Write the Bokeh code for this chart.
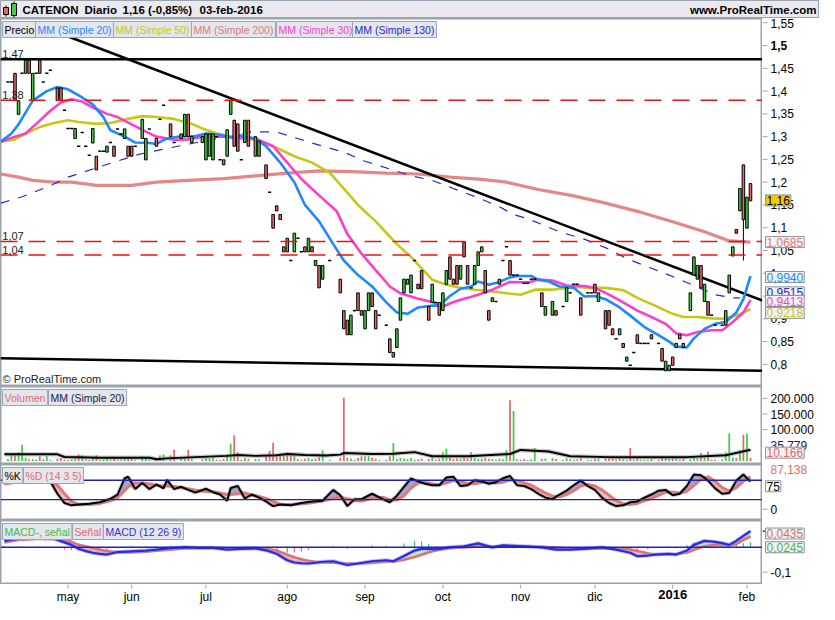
from bokeh.plotting import figure
from bokeh.layouts import column, row
from bokeh.models import Range1d, Label, Span
from bokeh.core.properties import value
from bokeh.embed import file_html
from bokeh.resources import INLINE

# ------------------------------------------------------------------ data
month_ticks = [18, 36, 57, 80, 102, 124, 146, 167, 189, 210]
month_labels = ["may", "jun", "jul", "ago", "sep", "oct", "nov", "dic", "2016", "feb"]

price_ticks = [0.8, 0.85, 0.9, 0.95, 1.0, 1.05, 1.1, 1.15, 1.2, 1.25, 1.3, 1.35, 1.4, 1.45, 1.5]
price_top_tick = 1.55
vol_ticks = [100000, 150000, 200000]
stoch_ticks = [0]
macd_ticks = [-0.1]

candle_x = [1, 2, 3, 4, 5, 6, 7, 8, 9, 10,
            11, 12, 13, 15, 16, 17, 18, 19, 20, 21,
            22, 23, 24, 25, 26, 27, 28, 29, 30, 31,
            32, 33, 34, 35, 36, 37, 39, 40, 41, 43,
            44, 45, 47, 48, 50, 51, 52, 53, 56, 57,
            58, 59, 60, 61, 62, 63, 64, 65, 66, 67,
            68, 69, 71, 72, 74, 75, 76, 77, 78, 79,
            80, 81, 82, 83, 84, 85, 86, 87, 88, 89,
            90, 92, 95, 96, 97, 98, 99, 100, 101, 102,
            103, 104, 105, 106, 108, 109, 110, 111, 112, 113,
            114, 115, 116, 117, 118, 120, 121, 122, 123, 124,
            125, 126, 127, 128, 129, 130, 131, 132, 133, 134,
            135, 136, 137, 138, 139, 140, 141, 142, 143, 144,
            145, 146, 147, 148, 149, 150, 152, 153, 155, 156,
            158, 159, 160, 161, 162, 163, 165, 166, 167, 168,
            170, 171, 172, 173, 174, 175, 176, 177, 178, 179,
            180, 181, 182, 183, 185, 186, 187, 188, 189, 190,
            191, 192, 194, 195, 196, 197, 198, 199, 200, 201,
            203, 204, 205, 206, 207, 208, 209, 210, 211]
candle_open = [1.420, 1.420, 1.439, 1.349, 1.439, 1.439, 1.468, 1.379, 1.439, 1.468,
               1.420, 1.439, 1.446, 1.407, 1.407, 1.358, 1.318, 1.318, 1.296, 1.279,
               1.309, 1.279, 1.259, 1.286, 1.257, 1.268, 1.268, 1.266, 1.287, 1.279,
               1.317, 1.306, 1.296, 1.279, 1.279, 1.279, 1.296, 1.249, 1.317, 1.296,
               1.338, 1.369, 1.328, 1.287, 1.296, 1.300, 1.349, 1.287, 1.287, 1.249,
               1.257, 1.249, 1.300, 1.249, 1.249, 1.257, 1.349, 1.336, 1.328, 1.249,
               1.287, 1.336, 1.300, 1.257, 1.238, 1.178, 1.129, 1.148, 1.129, 1.047,
               1.077, 1.028, 1.047, 1.077, 1.047, 1.058, 1.047, 1.058, 1.017, 1.017,
               0.987, 1.028, 0.987, 0.918, 0.897, 0.865, 0.918, 0.957, 0.918, 0.878,
               0.918, 0.957, 0.918, 0.908, 0.886, 0.856, 0.816, 0.837, 0.897, 0.957,
               0.976, 0.957, 1.028, 0.976, 1.006, 0.927, 0.936, 0.936, 0.936, 0.918,
               0.976, 1.036, 0.987, 1.017, 0.987, 1.069, 1.017, 0.968, 0.976, 1.017,
               1.047, 1.006, 0.918, 0.938, 0.938, 0.976, 1.028, 1.058, 1.028, 0.996,
               0.996, 0.987, 0.978, 0.978, 0.987, 0.987, 0.957, 0.908, 0.908, 0.918,
               0.927, 0.938, 0.957, 0.976, 0.976, 0.946, 0.957, 0.957, 0.976, 0.938,
               0.918, 0.918, 0.878, 0.856, 0.865, 0.846, 0.807, 0.798, 0.826, 0.865,
               0.846, 0.846, 0.846, 0.856, 0.846, 0.835, 0.786, 0.786, 0.816, 0.837,
               0.865, 0.846, 0.918, 0.996, 0.987, 1.017, 0.938, 0.938, 0.908, 0.886,
               0.886, 0.886, 0.957, 1.038, 1.096, 1.137, 1.238, 1.099, 1.197]
candle_close = [1.420, 1.420, 1.379, 1.379, 1.439, 1.468, 1.439, 1.439, 1.439, 1.439,
                1.420, 1.439, 1.446, 1.379, 1.379, 1.358, 1.318, 1.318, 1.318, 1.279,
                1.309, 1.279, 1.259, 1.318, 1.227, 1.268, 1.268, 1.279, 1.287, 1.257,
                1.317, 1.306, 1.317, 1.257, 1.257, 1.279, 1.338, 1.296, 1.317, 1.279,
                1.338, 1.369, 1.300, 1.287, 1.306, 1.349, 1.300, 1.300, 1.300, 1.306,
                1.306, 1.306, 1.300, 1.249, 1.238, 1.315, 1.379, 1.279, 1.268, 1.249,
                1.336, 1.279, 1.257, 1.290, 1.208, 1.178, 1.099, 1.137, 1.118, 1.058,
                1.047, 1.028, 1.088, 1.077, 1.047, 1.047, 1.077, 1.047, 1.028, 0.968,
                1.017, 1.028, 0.957, 0.878, 0.865, 0.908, 0.918, 0.918, 0.908, 0.918,
                0.957, 0.927, 0.878, 0.908, 0.886, 0.826, 0.826, 0.878, 0.946, 0.987,
                0.987, 0.996, 1.028, 0.966, 0.966, 0.897, 0.976, 0.936, 0.908, 0.957,
                1.006, 0.987, 0.976, 0.976, 1.017, 1.036, 0.976, 0.968, 1.017, 1.047,
                1.058, 0.957, 0.897, 0.946, 0.938, 0.987, 1.028, 1.058, 0.996, 0.996,
                0.996, 0.987, 0.978, 0.978, 0.987, 0.987, 0.927, 0.927, 0.938, 0.908,
                0.927, 0.968, 0.957, 0.976, 0.976, 0.908, 0.957, 0.957, 0.957, 0.957,
                0.878, 0.886, 0.865, 0.856, 0.878, 0.837, 0.816, 0.798, 0.826, 0.846,
                0.846, 0.846, 0.846, 0.865, 0.846, 0.807, 0.807, 0.798, 0.798, 0.846,
                0.856, 0.837, 0.957, 1.036, 1.017, 0.968, 0.976, 0.908, 0.908, 0.886,
                0.886, 0.918, 0.996, 1.058, 1.088, 1.186, 1.118, 1.167, 1.159]
candle_vol = [6000, 21000, 18000, 28000, 52000, 10000, 5000, 6000, 4000, 15000,
              5000, 15000, 4000, 8000, 9000, 4000, 3000, 5000, 7000, 21000,
              18000, 4000, 3000, 9000, 18000, 3000, 4000, 6000, 3000, 7000,
              3000, 4000, 8000, 6000, 7000, 3000, 15000, 9000, 3000, 6000,
              18000, 21000, 18000, 36000, 8000, 12000, 36000, 7000, 6000, 9000,
              8000, 10000, 4000, 3000, 6000, 21000, 55000, 82000, 28000, 4000,
              9000, 7000, 6000, 5000, 18000, 32000, 58000, 15000, 18000, 22000,
              28000, 24000, 18000, 6000, 4000, 7000, 9000, 6000, 8000, 12000,
              34000, 4000, 9000, 202000, 10000, 8000, 4000, 9000, 15000, 15000,
              15000, 10000, 7000, 3000, 4000, 15000, 57000, 6000, 9000, 8000,
              6000, 9000, 4000, 5000, 8000, 7000, 10000, 4000, 7000, 28000,
              40000, 9000, 6000, 8000, 7000, 10000, 8000, 28000, 9000, 7000,
              8000, 9000, 7000, 6000, 4000, 8000, 5000, 35000, 194000, 160000,
              5000, 4000, 6000, 3000, 5000, 41000, 7000, 8000, 9000, 6000,
              4000, 9000, 5000, 4000, 5000, 10000, 4000, 3000, 7000, 8000,
              10000, 8000, 6000, 4000, 8000, 5000, 3000, 41000, 4000, 9000,
              3000, 4000, 3000, 6000, 4000, 9000, 11000, 6000, 8000, 7000,
              4000, 6000, 8000, 12000, 9000, 25000, 12000, 30000, 5000, 4000,
              5000, 28000, 88000, 12000, 9000, 35000, 83000, 88000, 10166]
wick_x = [209]
wick_low = [1.028]
wick_high = [1.238]

level_black = [1.47]
level_red = [1.38, 1.07, 1.04]
level_text = ["1,47", "1,38", "1,07", "1,04"]
level_value = [1.47, 1.38, 1.07, 1.04]

trend_x0 = [16, -1.1]
trend_y0 = [1.526, 0.8136]
trend_x1 = [214.4, 214.4]
trend_y1 = [0.940, 0.7857]

ma20_x = [-1, 2, 4, 8, 12, 15, 18, 22, 25, 28, 30, 34, 37, 41, 43, 46, 50, 54, 57, 61, 64, 66, 68, 71, 74,
          78, 82, 85, 89, 93, 96, 100, 104, 108, 111, 114, 117, 121, 123, 126, 129, 132, 134, 137, 140,
          143, 145, 149, 151, 154, 157, 161, 164, 167, 170, 174, 177, 181, 185, 188, 190, 193, 195, 198,
          201, 204, 207, 209, 211]
ma20_y = [1.289, 1.307, 1.327, 1.379, 1.400, 1.409, 1.404, 1.386, 1.371, 1.343, 1.314, 1.300, 1.287, 1.286,
          1.284, 1.296, 1.301, 1.301, 1.307, 1.304, 1.298, 1.304, 1.300, 1.296, 1.279, 1.243, 1.200, 1.150,
          1.114, 1.064, 1.028, 0.996, 0.971, 0.936, 0.914, 0.911, 0.925, 0.929, 0.929, 0.950, 0.966, 0.971,
          0.982, 0.975, 0.981, 0.991, 0.994, 0.994, 0.986, 0.982, 0.971, 0.968, 0.949, 0.950, 0.943, 0.925,
          0.907, 0.882, 0.864, 0.850, 0.839, 0.837, 0.857, 0.878, 0.889, 0.893, 0.914, 0.943, 0.994]
ma30_x = [-1, 3, 6, 9, 13, 16, 19, 22, 25, 29, 32, 36, 40, 43, 48, 52, 56, 61, 66, 71, 76, 80, 84, 89, 94,
          97, 101, 105, 109, 112, 117, 121, 124, 127, 131, 134, 138, 143, 148, 151, 155, 159, 164, 167,
          171, 175, 179, 183, 187, 190, 193, 196, 200, 203, 206, 209, 211]
ma30_y = [1.289, 1.300, 1.307, 1.328, 1.357, 1.375, 1.382, 1.377, 1.364, 1.350, 1.343, 1.327, 1.311, 1.300,
          1.293, 1.294, 1.300, 1.300, 1.298, 1.296, 1.279, 1.243, 1.207, 1.171, 1.136, 1.086, 1.043, 1.007,
          0.971, 0.956, 0.944, 0.937, 0.927, 0.937, 0.946, 0.953, 0.964, 0.981, 0.980, 0.986, 0.984, 0.973,
          0.972, 0.968, 0.953, 0.936, 0.918, 0.904, 0.889, 0.868, 0.864, 0.871, 0.875, 0.875, 0.893, 0.914,
          0.941]
ma50_x = [-1, 3, 6, 10, 14, 18, 21, 26, 30, 35, 39, 43, 48, 53, 56, 60, 64, 67, 71, 76, 82, 87, 92, 96, 100,
          105, 108, 111, 115, 118, 121, 125, 129, 133, 137, 142, 146, 150, 155, 161, 166, 170, 175, 179,
          184, 189, 192, 196, 200, 203, 207, 211]
ma50_y = [1.289, 1.294, 1.307, 1.321, 1.330, 1.336, 1.332, 1.328, 1.330, 1.339, 1.345, 1.343, 1.339, 1.328,
          1.318, 1.307, 1.300, 1.296, 1.293, 1.279, 1.257, 1.243, 1.221, 1.186, 1.150, 1.114, 1.089, 1.064,
          1.036, 1.011, 0.986, 0.975, 0.968, 0.964, 0.961, 0.956, 0.953, 0.964, 0.964, 0.970, 0.968, 0.968,
          0.963, 0.946, 0.929, 0.911, 0.904, 0.904, 0.901, 0.900, 0.907, 0.921]
ma200_x = [-1, 4, 8, 14, 19, 26, 36, 43, 52, 62, 71, 80, 89, 98, 108, 117, 126, 135, 142, 151, 161, 170,
           179, 189, 198, 205, 211]
ma200_y = [1.218, 1.211, 1.204, 1.200, 1.200, 1.193, 1.193, 1.200, 1.204, 1.208, 1.214, 1.220, 1.225, 1.223,
           1.220, 1.218, 1.211, 1.206, 1.200, 1.184, 1.170, 1.154, 1.136, 1.113, 1.091, 1.071, 1.0685]
ma130_x = [-1, 5, 12, 18, 25, 31, 38, 44, 51, 57, 64, 70, 77, 90, 96, 102, 109, 115, 121, 127, 134, 140,
           144, 148, 157, 164, 171, 176, 183, 189, 195, 201, 206, 208]
ma130_y = [1.154, 1.168, 1.189, 1.211, 1.229, 1.244, 1.261, 1.271, 1.282, 1.291, 1.300, 1.311, 1.310, 1.279,
           1.266, 1.246, 1.229, 1.214, 1.204, 1.186, 1.166, 1.146, 1.129, 1.120, 1.091, 1.075, 1.053, 1.032,
           1.011, 0.993, 0.973, 0.953, 0.946, 0.946]

vma_x = [0, 15, 17, 27, 41, 43, 46, 54, 63, 66, 71, 77, 80, 85, 91, 95, 96, 104, 110, 116, 121, 131, 143,
         146, 154, 160, 171, 193, 204, 208, 211]
vma_y = [21000, 21000, 12500, 10000, 10000, 5000, 8000, 12000, 16000, 19000, 16000, 18000, 22000, 19000,
         17000, 20000, 25000, 22000, 23000, 28000, 15000, 15000, 22000, 35000, 30000, 15000, 12000, 12000,
         18000, 28000, 35779]

stoch_x = [0, 3, 5, 7, 10, 13, 15, 17, 19, 21, 24, 27, 30, 32, 34, 35, 37, 39, 41, 43, 45, 46, 48, 50, 52,
           54, 57, 59, 61, 63, 64, 66, 68, 70, 72, 74, 76, 78, 81, 84, 87, 90, 93, 95, 97, 99, 101, 104, 107,
           109, 111, 113, 115, 117, 119, 121, 123, 125, 127, 129, 131, 133, 135, 137, 139, 141, 143, 145,
           147, 149, 151, 153, 155, 157, 159, 161, 163, 165, 167, 169, 171, 173, 175, 177, 179, 181, 183,
           185, 187, 189, 191, 193, 195, 197, 199, 201, 203, 205, 207, 209, 210, 211]
stoch_k = [70, 74, 70, 80, 80, 72, 40, 16, 10, 12, 14, 18, 27, 38, 80, 84, 52, 68, 52, 64, 54, 76, 52, 58, 50,
           43, 53, 44, 38, 22, 55, 60, 28, 38, 30, 20, 8, 12, 10, 16, 20, 22, 50, 36, 8, 26, 26, 40, 26, 18,
           35, 58, 80, 72, 66, 62, 62, 82, 84, 60, 62, 75, 72, 66, 70, 80, 86, 62, 60, 52, 40, 30, 26, 38, 48,
           62, 74, 60, 50, 30, 16, 8, 10, 18, 20, 30, 38, 48, 50, 36, 40, 60, 90, 88, 74, 54, 40, 42, 74, 90,
           80, 72]
stoch_d = [65, 70, 72, 75, 76, 73, 62, 40, 20, 12, 12, 15, 22, 30, 48, 58, 68, 68, 65, 62, 60, 60, 59, 56, 53,
           49, 46, 45, 42, 38, 38, 40, 42, 36, 33, 28, 20, 13, 12, 14, 17, 21, 28, 31, 27, 22, 21, 28, 31, 24,
           24, 35, 55, 68, 70, 66, 63, 68, 74, 72, 66, 66, 70, 70, 68, 70, 76, 74, 68, 62, 52, 42, 34, 32, 38,
           48, 60, 64, 60, 50, 36, 22, 14, 12, 15, 22, 28, 36, 44, 44, 42, 46, 62, 78, 84, 72, 56, 47, 56, 72,
           80, 84]

macd_x = [0, 4, 10, 14, 17, 19, 21, 23, 25, 27, 29, 32, 36, 40, 43, 47, 51, 55, 59, 63, 67, 71, 74, 77, 80,
          82, 84, 86, 88, 90, 93, 97, 100, 104, 108, 110, 113, 116, 118, 120, 122, 126, 130, 134, 136, 138,
          141, 144, 147, 152, 156, 160, 164, 169, 173, 177, 179, 182, 184, 188, 190, 193, 195, 198, 201, 203,
          205, 207, 209, 211]
macd_line = [0.026, 0.035, 0.039, 0.035, 0.020, 0.010, -0.006, -0.015, -0.022, -0.026, -0.029, -0.019,
             -0.016, -0.013, -0.009, -0.003, 0.000, -0.002, -0.002, -0.009, -0.006, -0.004, -0.012, -0.026,
             -0.052, -0.061, -0.064, -0.065, -0.062, -0.058, -0.056, -0.071, -0.065, -0.056, -0.052, -0.056,
             -0.035, -0.013, -0.006, -0.006, -0.008, 0.000, 0.004, 0.016, 0.008, 0.000, 0.008, 0.006, 0.004,
             0.000, -0.009, -0.009, -0.006, 0.000, -0.009, -0.022, -0.036, -0.033, -0.029, -0.026, -0.029,
             -0.013, 0.010, 0.026, 0.022, 0.017, 0.010, 0.026, 0.046, 0.065]
macd_signal = [0.020, 0.030, 0.035, 0.034, 0.028, 0.022, 0.010, 0.004, -0.003, -0.010, -0.015, -0.020,
               -0.021, -0.018, -0.014, -0.010, -0.005, -0.003, -0.003, -0.004, -0.004, -0.004, -0.006,
               -0.013, -0.030, -0.040, -0.048, -0.054, -0.058, -0.061, -0.062, -0.065, -0.065, -0.063,
               -0.058, -0.058, -0.050, -0.039, -0.030, -0.020, -0.013, -0.004, 0.000, 0.004, 0.004, 0.004,
               0.003, 0.004, 0.004, 0.002, -0.001, -0.005, -0.006, -0.004, -0.005, -0.009, -0.015, -0.024,
               -0.029, -0.028, -0.027, -0.022, -0.010, 0.004, 0.010, 0.010, 0.008, 0.013, 0.030, 0.0435]

# ------------------------------------------------------------------ style
FONT = "Liberation Sans"
W = 819
RB = 57
FW = W - RB
H_HEAD, H_PRICE, H_VOL, H_STO, H_MACD, H_AX = 18, 368, 78, 56, 64, 20
BORDER = "#9aa4ae"
GREEN = "#44cc44"
RED = "#e46a6a"
C20, C50, C200, C30, C130 = "#1e88ff", "#c8c814", "#e07a7a", "#ff3dcc", "#2828c8"
BOXBG = "#e4e6ee"

xr = Range1d(-1.1, 214.4)


def main_fig(h, yr):
    p = figure(width=FW, height=h, x_range=xr, y_range=yr, x_axis_location=None, y_axis_location=None,
               toolbar_location=None, output_backend="svg", min_border=0)
    p.grid.visible = False
    p.outline_line_color = BORDER
    p.outline_line_width = 2
    return p


def side_fig(h, yr, ticks, labels, styles="normal"):
    s = figure(width=RB, height=h, x_range=Range1d(0, RB), y_range=yr, x_axis_location=None,
               y_axis_location=None, toolbar_location=None, output_backend="svg", min_border=0)
    s.grid.visible = False
    s.outline_line_color = None
    n = len(ticks)
    s.segment(x0=[0] * n, y0=ticks, x1=[5] * n, y1=ticks, line_color=BORDER, line_width=1)
    s.text(x=[8] * n, y=ticks, text=labels, text_font=value(FONT), text_font_size="12px",
           text_baseline="middle", text_color="black", text_font_style=styles)
    return s


def legend_boxes(p, frame_h, items):
    x = 2
    for text, color, width in items:
        p.add_layout(Label(x=x, y=frame_h - 3, x_units="screen", y_units="screen", text=text,
                           text_color=color, text_font=FONT, text_font_size="10.5px",
                           text_baseline="top", background_fill_color=BOXBG,
                           border_line_color="#9aa4b4", padding=2))
        x += width


def box_label(s, yv, text, color, bg="#f2f2f4", yoff=0, border="#8a949e"):
    s.add_layout(Label(x=3, y=yv, text=text, text_color=color, text_font=FONT, text_font_size="12px",
                       text_baseline="middle", background_fill_color=bg, border_line_color=border,
                       padding=1, y_offset=yoff))


# ------------------------------------------------------------------ header
hd = figure(width=W, height=H_HEAD, x_range=Range1d(0, W), y_range=Range1d(0, H_HEAD),
            x_axis_location=None, y_axis_location=None, toolbar_location=None, output_backend="svg",
            min_border=0)
hd.grid.visible = False
hd.background_fill_color = "#e9e9ef"
hd.outline_line_color = BORDER
hd.segment(x0=[5.5, 13.5], y0=[2, 1], x1=[5.5, 13.5], y1=[13, 17], line_color="black")
hd.quad(left=[3, 11], right=[8, 16], bottom=[4, 3], top=[11, 15], fill_color=[RED, GREEN], line_color="black")
for tx, xx in [("CATENON", 22), ("Diario", 84), ("1,16 (-0,85%)", 122), ("03-feb-2016", 199)]:
    hd.add_layout(Label(x=xx, y=9, text=tx, text_font=FONT, text_font_size="11.5px", text_font_style="bold",
                        text_baseline="middle", text_color="black"))
hd.add_layout(Label(x=W - 3, y=9, text="www.ProRealTime.com", text_font=FONT, text_font_size="11.5px",
                    text_font_style="bold", text_baseline="middle", text_align="right", text_color="black"))

# ------------------------------------------------------------------ price panel
pyr = Range1d(0.7514, 1.5594)
pp = main_fig(H_PRICE, pyr)
for lv in level_black:
    pp.add_layout(Span(location=lv, dimension="width", line_color="black", line_width=2.5))
for lv in level_red:
    pp.add_layout(Span(location=lv, dimension="width", line_color="#ee1111", line_width=1.5,
                       line_dash="17 11"))
for t, lv in zip(level_text, level_value):
    pp.add_layout(Label(x=-0.6, y=lv, text=t, text_font=FONT, text_font_size="11px",
                        text_color="#222222", text_baseline="bottom", y_offset=1))

pp.line(ma200_x, ma200_y, line_color=C200, line_width=3.2, line_alpha=0.9)
pp.line(ma130_x, ma130_y, line_color=C130, line_width=1.2, line_dash="9 9")
pp.segment(x0=trend_x0, y0=trend_y0, x1=trend_x1, y1=trend_y1, line_color="black", line_width=2.5)
pp.line(ma50_x, ma50_y, line_color=C50, line_width=2.6)
pp.line(ma30_x, ma30_y, line_color=C30, line_width=2.6)
pp.line(ma20_x, ma20_y, line_color=C20, line_width=2.6)

pp.segment(x0=wick_x, y0=wick_low, x1=wick_x, y1=wick_high, line_color="black", line_width=1)
up_x, up_b, up_t, dn_x, dn_b, dn_t, fl_x, fl_y = [], [], [], [], [], [], [], []
for x, o, c in zip(candle_x, candle_open, candle_close):
    if c > o:
        up_x.append(x); up_b.append(o); up_t.append(c)
    elif c < o:
        dn_x.append(x); dn_b.append(c); dn_t.append(o)
    else:
        fl_x.append(x); fl_y.append(c)
pp.vbar(x=up_x, bottom=up_b, top=up_t, width=0.72, fill_color=GREEN, line_color="black", line_width=1)
pp.vbar(x=dn_x, bottom=dn_b, top=dn_t, width=0.72, fill_color=RED, line_color="black", line_width=1)
pp.segment(x0=[x - 0.45 for x in fl_x], y0=fl_y, x1=[x + 0.45 for x in fl_x], y1=fl_y,
           line_color="black", line_width=1.5)

legend_boxes(pp, H_PRICE, [("Precio", "black", 33), ("MM (Simple 20)", C20, 78),
                           ("MM (Simple 50)", C50, 78), ("MM (Simple 200)", C200, 85),
                           ("MM (Simple 30)", C30, 76), ("MM (Simple 130)", C130, 84)])
pp.add_layout(Label(x=2, y=2, x_units="screen", y_units="screen", text="\u00a9 ProRealTime.com",
                    text_font=FONT, text_font_size="11px", text_color="#222222"))

p_labels = [("{:g}".format(t).replace(".", ",")) for t in price_ticks]
p_styles = ["bold" if t == 1.5 else "normal" for t in price_ticks]
ps = side_fig(H_PRICE, pyr, price_ticks, p_labels, p_styles)
ps.segment(x0=[0], y0=[price_top_tick], x1=[5], y1=[price_top_tick], line_color=BORDER)
ps.text(x=[8], y=[pyr.end], text=["{:g}".format(price_top_tick).replace(".", ",")],
        text_font=value(FONT), text_font_size="12px", text_baseline="top", text_color="black")
box_label(ps, 0.9515, "0,9515", C130, yoff=3)
box_label(ps, 0.9940, "0,9940", C20, yoff=-1)
box_label(ps, 0.9413, "0,9413", C30, yoff=-1)
box_label(ps, 0.9218, "0,9218", C50, yoff=-4)
box_label(ps, 1.0685, "1,0685", C200)
box_label(ps, 1.16, "1,16", "black", bg="#f5c800")

# ------------------------------------------------------------------ volume panel
vyr = Range1d(-11600, 238000)
vp = main_fig(H_VOL, vyr)
vol_colors = []
prev = candle_close[0]
for o, c in zip(candle_open, candle_close):
    if c > o or (c == o and c >= prev):
        vol_colors.append(GREEN)
    else:
        vol_colors.append(RED)
    prev = c
vp.vbar(x=candle_x, top=candle_vol, bottom=0, width=0.5, fill_color=vol_colors, line_color=None)
vp.line(vma_x, vma_y, line_color="#888888", line_width=4.5, line_alpha=0.45)
vp.line(vma_x, vma_y, line_color="black", line_width=2)
legend_boxes(vp, H_VOL, [("Volumen", RED, 46), ("MM (Simple 20)", "#222244", 78)])
vs = side_fig(H_VOL, vyr, vol_ticks, ["{:.3f}".format(t / 1000) for t in vol_ticks])
vs.add_layout(Label(x=8, y=35779, text="35.779", text_color="#1a1a50", text_font=FONT,
                    text_font_size="12px", text_baseline="middle", y_offset=4))
box_label(vs, 10166, "10.166", RED, yoff=5)

# ------------------------------------------------------------------ stochastic panel
syr = Range1d(-29.25, 115.75)
sp = main_fig(H_STO, syr)
sp.add_layout(Span(location=75, dimension="width", line_color="#2222aa", line_width=1.3))
sp.add_layout(Span(location=25, dimension="width", line_color="#2222aa", line_width=1.3))
upper = [max(k, d) for k, d in zip(stoch_k, stoch_d)]
lower = [min(k, d) for k, d in zip(stoch_k, stoch_d)]
sp.varea(x=stoch_x, y1=stoch_d, y2=upper, fill_color="#9c9cd0", fill_alpha=0.9)
sp.varea(x=stoch_x, y1=lower, y2=stoch_d, fill_color="#f2b4b4", fill_alpha=0.9)
sp.line(stoch_x, stoch_d, line_color="#e07878", line_width=3)
sp.line(stoch_x, stoch_k, line_color="#888888", line_width=4, line_alpha=0.35)
sp.line(stoch_x, stoch_k, line_color="black", line_width=2)
legend_boxes(sp, H_STO, [("%K", "black", 21), ("%D (14 3 5)", RED, 62)])
ss = side_fig(H_STO, syr, stoch_ticks, [str(t) for t in stoch_ticks])
ss.add_layout(Label(x=8, y=87.138, text="87,138", text_color=RED, text_font=FONT,
                    text_font_size="12px", text_baseline="middle", y_offset=6))
box_label(ss, 75, "75", "black", bg="white", yoff=-6)

# ------------------------------------------------------------------ MACD panel
myr = Range1d(-0.1496, 0.108)
mp = main_fig(H_MACD, myr)
hist = [m - s for m, s in zip(macd_line, macd_signal)]
hcol = [GREEN if h >= 0 else RED for h in hist]
mp.vbar(x=macd_x, top=hist, bottom=0, width=0.35, fill_color=hcol, line_color=None)
mp.add_layout(Span(location=0, dimension="width", line_color="#2222bb", line_width=1.5))
mup = [max(m, s) for m, s in zip(macd_line, macd_signal)]
mlo = [min(m, s) for m, s in zip(macd_line, macd_signal)]
mp.varea(x=macd_x, y1=macd_signal, y2=mup, fill_color="#b4eab4", fill_alpha=0.9)
mp.varea(x=macd_x, y1=mlo, y2=macd_signal, fill_color="#f4b4b4", fill_alpha=0.9)
mp.line(macd_x, macd_signal, line_color="#e07070", line_width=2.6)
mp.line(macd_x, macd_line, line_color="#9a9ae8", line_width=4, line_alpha=0.6)
mp.line(macd_x, macd_line, line_color="#2a2ae0", line_width=2.2)
legend_boxes(mp, H_MACD, [("MACD-, se\u00f1al", "#44bb44", 70), ("Se\u00f1al", RED, 31),
                          ("MACD (12 26 9)", "#3333cc", 82)])
ms = side_fig(H_MACD, myr, macd_ticks, ["{:g}".format(t).replace(".", ",") for t in macd_ticks])
ms.segment(x0=[0], y0=[0.065], x1=[5], y1=[0.065], line_color="#2a2ae0", line_width=1.5)
box_label(ms, 0.0435, "0,0435", RED, yoff=3)
box_label(ms, 0.0245, "0,0245", "#44bb44", yoff=-6)

# ------------------------------------------------------------------ date axis strip
ax = figure(width=FW, height=H_AX, x_range=xr, y_range=Range1d(0, H_AX), x_axis_location=None,
            y_axis_location=None, toolbar_location=None, output_backend="svg", min_border=0)
ax.grid.visible = False
ax.outline_line_color = None
nm = len(month_ticks)
ax.segment(x0=month_ticks, y0=[H_AX] * nm, x1=month_ticks, y1=[H_AX - 4] * nm, line_color=BORDER,
           line_width=1)
ax.text(x=month_ticks, y=[H_AX - 5] * nm, text=month_labels, text_font=value(FONT),
        text_font_size=["13px" if l == "2016" else "12px" for l in month_labels],
        text_font_style=["bold" if l == "2016" else "normal" for l in month_labels],
        text_align="center", text_baseline="top", text_color="black")

layout = column(hd, row(pp, ps, spacing=0), row(vp, vs, spacing=0), row(sp, ss, spacing=0),
                row(mp, ms, spacing=0), ax, spacing=0)
open("out.html", "w").write(file_html(layout, INLINE))
